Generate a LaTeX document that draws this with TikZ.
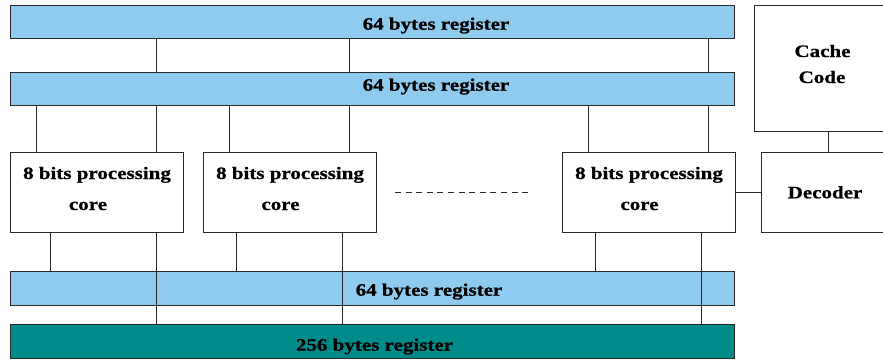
\documentclass[tikz,border=0pt]{standalone}
\usepackage{fontspec}
\newfontfamily\lblfont{Liberation Serif Bold}[FakeStretch=1.2, FakeBold=0.8]
\definecolor{regblue}{RGB}{143,203,238}
\definecolor{regteal}{RGB}{0,139,139}
\definecolor{edge}{RGB}{40,40,40}
\begin{document}
\begin{tikzpicture}[x=1pt,y=1pt,
  box/.style={draw=edge, line width=1pt, inner sep=0pt, outer sep=0pt, anchor=south west},
  reg/.style={box, fill=regblue, minimum width=724pt, minimum height=33pt},
  corebox/.style={box, fill=white, minimum width=173pt, minimum height=80pt},
  lbl/.style={font=\lblfont\fontsize{17.5}{20}\selectfont, inner sep=0pt, anchor=base},
  wire/.style={draw=edge, line width=1pt},
  dots/.style={draw=edge, line width=1pt, dash pattern=on 6pt off 4.6pt}]
\path[use as bounding box, clip] (0,0) rectangle (883,360);
% registers
\node[reg] (r1) at (10,322) {};
\node[reg] (r2) at (10,255) {};
\node[reg, minimum height=34pt] (r3) at (10,55) {};
\node[reg, minimum height=34pt, fill=regteal] (r4) at (10,2) {};
% cores
\node[corebox] (c1) at (10,128) {};
\node[corebox] (c2) at (203,128) {};
\node[corebox] (c3) at (562,128) {};
% cache and decoder
\node[box, fill=white, minimum width=141pt, minimum height=126.5pt] (cache) at (754,228.5) {};
\node[box, fill=white, minimum width=134pt, minimum height=80pt] (dec) at (761,128) {};
% labels
\node[lbl] (t1) at (436,330.3) {64 bytes register};
\node[lbl] (t2) at (436,269.3) {64 bytes register};
\node[lbl] (t3) at (429,64.3) {64 bytes register};
\node[lbl] (t4) at (374.5,9.3) {256 bytes register};
\node[lbl] (c1a) at (97,181) {8 bits processing};
\node[lbl] (c1b) at (88,150) {core};
\node[lbl] (c2a) at (290,181) {8 bits processing};
\node[lbl] (c2b) at (280.5,150) {core};
\node[lbl] (c3a) at (649,181) {8 bits processing};
\node[lbl] (c3b) at (639.5,150) {core};
\node[lbl] (ca) at (822.5,303) {Cache};
\node[lbl] (cb) at (822,277) {Code};
\node[lbl] (dt) at (825,161.7) {Decoder};
% connectors
\foreach \x in {156,349,708}
  \draw[wire] (r1.south -| \x,0) -- (r2.north -| \x,0);
\foreach \x/\c in {36/c1,156/c1,229/c2,349/c2,588/c3,708/c3}
  \draw[wire] (r2.south -| \x,0) -- (\c.north -| \x,0);
\foreach \x/\c/\r in {50/c1/r3,156/c1/r4,236/c2/r3,342/c2/r4,595/c3/r3,701/c3/r4}
  \draw[wire] (\c.south -| \x,0) -- (\r.north -| \x,0);
\draw[wire] (cache.south -| 828,0) -- (dec.north -| 828,0);
\draw[wire] (c3.east) -- (dec.west);
\coordinate (d1) at (395,168);
\coordinate (d2) at (528,168);
\draw[dots] (d1) -- (d2);
\end{tikzpicture}
\end{document}
